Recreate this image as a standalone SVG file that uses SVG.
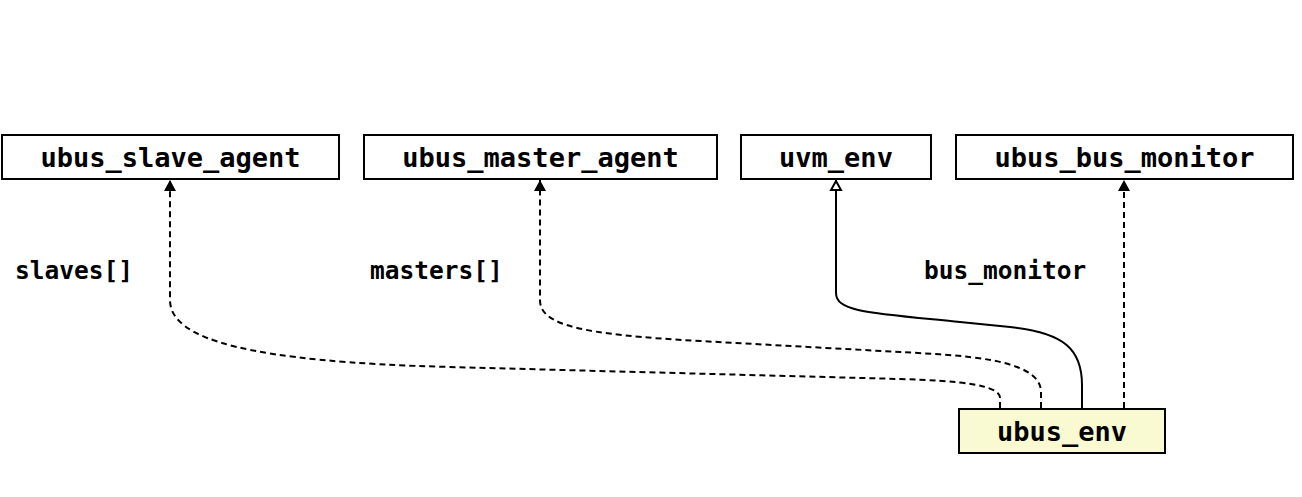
<svg xmlns="http://www.w3.org/2000/svg" width="1302" height="497" viewBox="0 0 1302 497">
<style>
.box{fill:#ffffff;stroke:#000;stroke-width:2}
.main{fill:#fafad2;stroke:#000;stroke-width:2}
.nt{font-family:"DejaVu Sans Mono","Liberation Mono",monospace;font-weight:bold;font-size:27px;fill:#000;text-anchor:middle}
.lb{font-family:"DejaVu Sans Mono","Liberation Mono",monospace;font-weight:bold;font-size:24.5px;fill:#000}
.dash{fill:none;stroke:#000;stroke-width:2;stroke-dasharray:6,4}
.solid{fill:none;stroke:#000;stroke-width:2}
</style>
<defs>
<marker id="filled" markerWidth="12" markerHeight="14" refX="11" refY="7" orient="auto" markerUnits="userSpaceOnUse">
<path d="M0,1 L11,7 L0,13 Z" fill="#000"/>
</marker>
<marker id="hollow" markerWidth="14" markerHeight="14" refX="12" refY="7" orient="auto" markerUnits="userSpaceOnUse">
<path d="M2,2 L11,7 L2,12 Z" fill="#fff" stroke="#000" stroke-width="2"/>
</marker>
</defs>
<rect width="1302" height="497" fill="#fff"/>
<g id="connectors">
<path class="dash" d="M1000,408 V398 C1000,385 960,380.6 900,379 L450,367 C250,361.7 170,340 170,300 V180" marker-end="url(#filled)"/>
<path class="dash" d="M1041,408 V392 C1041,358 960,355.3 900,352 L700,341 C580,334.4 540,325 540,300 V180" marker-end="url(#filled)"/>
<path class="solid" d="M1082,408 V385 C1082,350 1065,332.5 1010,327 L960,322 C870,313 836,312 836,293 V180" marker-end="url(#hollow)"/>
<path class="dash" d="M1124,408 V180" marker-end="url(#filled)"/>
<text class="lb" x="15" y="279">slaves[]</text>
<text class="lb" x="370" y="279">masters[]</text>
<text class="lb" x="924" y="279">bus_monitor</text>
</g>
<g id="ubus_slave_agent">
<rect class="box" x="2" y="135" width="337" height="44"/>
<text class="nt" x="170.5" y="167">ubus_slave_agent</text>
</g>
<g id="ubus_master_agent">
<rect class="box" x="364" y="135" width="353" height="44"/>
<text class="nt" x="540.5" y="167">ubus_master_agent</text>
</g>
<g id="uvm_env">
<rect class="box" x="741" y="135" width="190" height="44"/>
<text class="nt" x="836" y="167">uvm_env</text>
</g>
<g id="ubus_bus_monitor">
<rect class="box" x="956" y="135" width="337" height="44"/>
<text class="nt" x="1124.5" y="167">ubus_bus_monitor</text>
</g>
<g id="ubus_env">
<rect class="main" x="959" y="409" width="206" height="44"/>
<text class="nt" x="1062" y="441">ubus_env</text>
</g>
</svg>
